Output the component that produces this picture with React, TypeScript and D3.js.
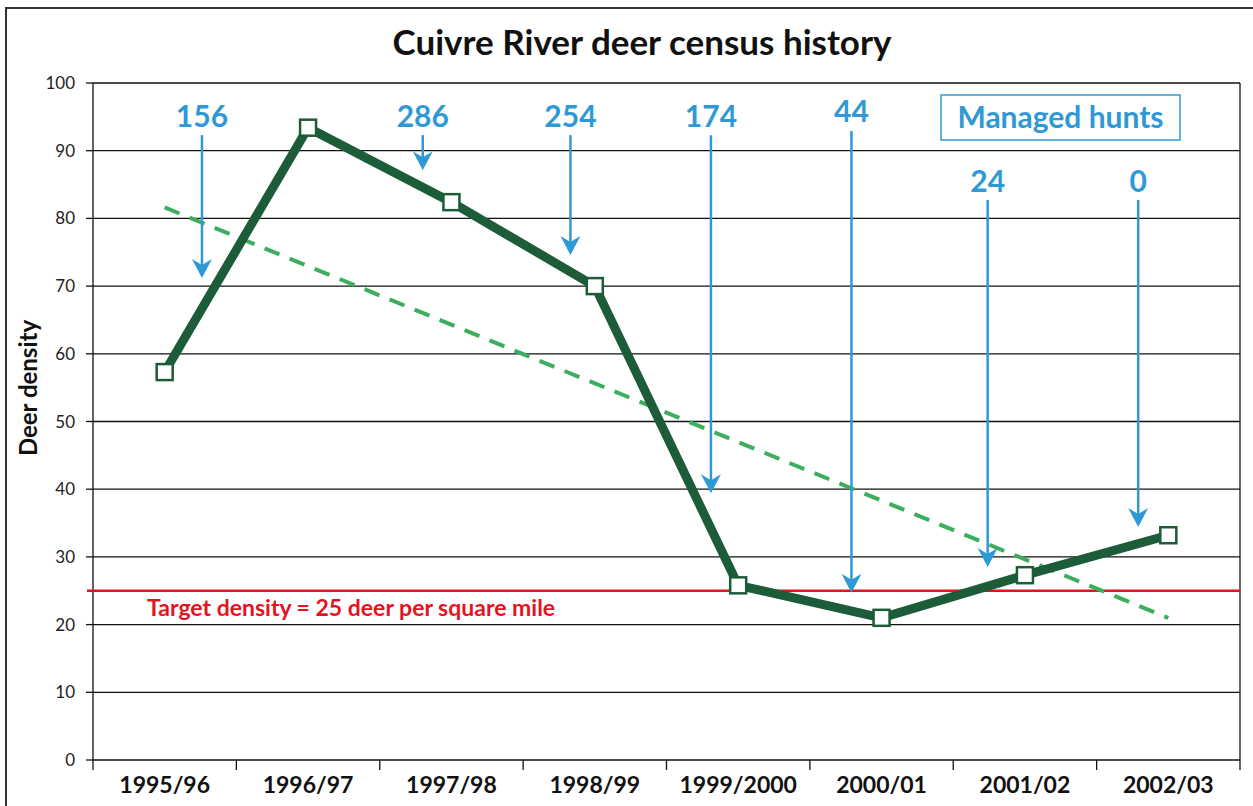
import React from "react";
import * as d3 from "d3";

// census data
const seasons = ["1995/96", "1996/97", "1997/98", "1998/99", "1999/2000", "2000/01", "2001/02", "2002/03"];
const density = [57.3, 93.4, 82.4, 70.0, 25.8, 21.0, 27.3, 33.2];
const yTicks = [0, 10, 20, 30, 40, 50, 60, 70, 80, 90, 100];
const targetDensity = 25;

// managed hunt annotations (x in season-index units, y in density units)
const huntLabels = ["156", "286", "254", "174", "44", "24", "0"];
const huntX = [0.26, 1.8, 2.83, 3.81, 4.79, 5.74, 6.79];
const huntLabelY = [93.5, 93.5, 93.5, 93.5, 94.2, 83.9, 83.9];
const huntArrowTop = [92.3, 92.3, 92.3, 92.3, 92.9, 82.7, 82.7];
const huntArrowTip = [71.2, 87.1, 74.6, 39.4, 24.7, 28.5, 34.4];

const W = 1253;
const H = 806;
const FONT = "Lato, 'Open Sans', sans-serif";
const BLUE = "#2F99D5";
const DARK = "#1D5C38";
const TREND = "#3DAD5E";
const RED = "#E5131F";

export default function App() {
  const left = 93, right = 1240, top = 83, bottom = 760;
  const x = d3.scaleLinear().domain([-0.5, seasons.length - 0.5]).range([left, right]);
  const y = d3.scaleLinear().domain([0, 100]).range([bottom, top]);

  // least squares trend line
  const idx = density.map((_, i) => i);
  const mx = d3.mean(idx)!;
  const my = d3.mean(density)!;
  const slope = d3.sum(idx, i => (i - mx) * (density[i] - my)) / d3.sum(idx, i => (i - mx) ** 2);
  const icpt = my - slope * mx;
  const n = density.length - 1;

  const line = d3.line<number>().x((_, i) => x(i)).y(d => y(d));

  const boundaries = d3.range(seasons.length + 1).map(i => i - 0.5);

  return (
    <svg width={W} height={H} style={{ position: "absolute", left: 0, top: 0, fontFamily: FONT }}>
      <rect x={0} y={0} width={W} height={H} fill="#fff" />
      <rect x={6} y={8} width={W + 10} height={H + 10} fill="none" stroke="#333" strokeWidth={2} />

      <text x={642} y={55} textAnchor="middle" fontSize={35} fontWeight={700} fill="#111">
        Cuivre River deer census history
      </text>

      {/* grid + y axis */}
      {yTicks.map(t => (
        <g key={t}>
          {t > 0 && <line x1={left} x2={right} y1={y(t)} y2={y(t)} stroke="#111" strokeWidth={1.3} />}
          <line x1={left - 7} x2={left} y1={y(t)} y2={y(t)} stroke="#111" strokeWidth={1.3} />
          <text x={left - 18} y={y(t) + 6} textAnchor="end" fontSize={17} fill="#222">{t}</text>
        </g>
      ))}
      <line x1={left} x2={left} y1={top} y2={bottom} stroke="#111" strokeWidth={1.3} />
      <line x1={right} x2={right} y1={top} y2={bottom} stroke="#111" strokeWidth={1.3} />
      <line x1={left} x2={right} y1={bottom} y2={bottom} stroke="#111" strokeWidth={1.5} />

      {/* x axis */}
      {boundaries.map(b => (
        <line key={b} x1={x(b)} x2={x(b)} y1={bottom} y2={bottom + 10} stroke="#111" strokeWidth={1.3} />
      ))}
      {seasons.map((s, i) => (
        <text key={s} x={x(i)} y={793} textAnchor="middle" fontSize={23} fontWeight={700} fill="#111">{s}</text>
      ))}

      <text transform={`translate(37, 388) rotate(-90)`} textAnchor="middle" fontSize={24} fontWeight={700} fill="#111">
        Deer density
      </text>

      {/* target density */}
      <line x1={left - 6} x2={right} y1={y(targetDensity)} y2={y(targetDensity)} stroke={RED} strokeWidth={2.5} />
      <text x={147} y={y(targetDensity) + 25} fontSize={23} fontWeight={700} fill={RED}>
        Target density = 25 deer per square mile
      </text>

      {/* trend line */}
      <line x1={x(0)} y1={y(icpt)} x2={x(n)} y2={y(icpt + slope * n)} stroke={TREND} strokeWidth={4} strokeDasharray="16 11" />

      {/* data */}
      <path d={line(density) || ""} fill="none" stroke={DARK} strokeWidth={9} strokeLinejoin="miter" />
      {density.map((d, i) => (
        <rect key={i} x={x(i) - 8} y={y(d) - 8} width={16} height={16} fill="#fff" stroke={DARK} strokeWidth={2.5} />
      ))}

      {/* hunt arrows */}
      {huntLabels.map((lab, i) => {
        const ax = x(huntX[i]);
        const tip = y(huntArrowTip[i]);
        return (
          <g key={i}>
            <text x={ax} y={y(huntLabelY[i])} textAnchor="middle" fontSize={30} fontWeight={700} fill={BLUE}>{lab}</text>
            <line x1={ax} x2={ax} y1={y(huntArrowTop[i])} y2={tip - 8} stroke={BLUE} strokeWidth={2.5} />
            <path d={`M${ax},${tip} L${ax - 10},${tip - 19} L${ax},${tip - 13} L${ax + 10},${tip - 19} Z`} fill={BLUE} />
          </g>
        );
      })}

      {/* legend box */}
      <rect x={941} y={95} width={239} height={45} fill="#fff" stroke={BLUE} strokeWidth={1.5} />
      <text x={1060.5} y={128} textAnchor="middle" fontSize={30} fontWeight={700} fill={BLUE}>Managed hunts</text>
    </svg>
  );
}
